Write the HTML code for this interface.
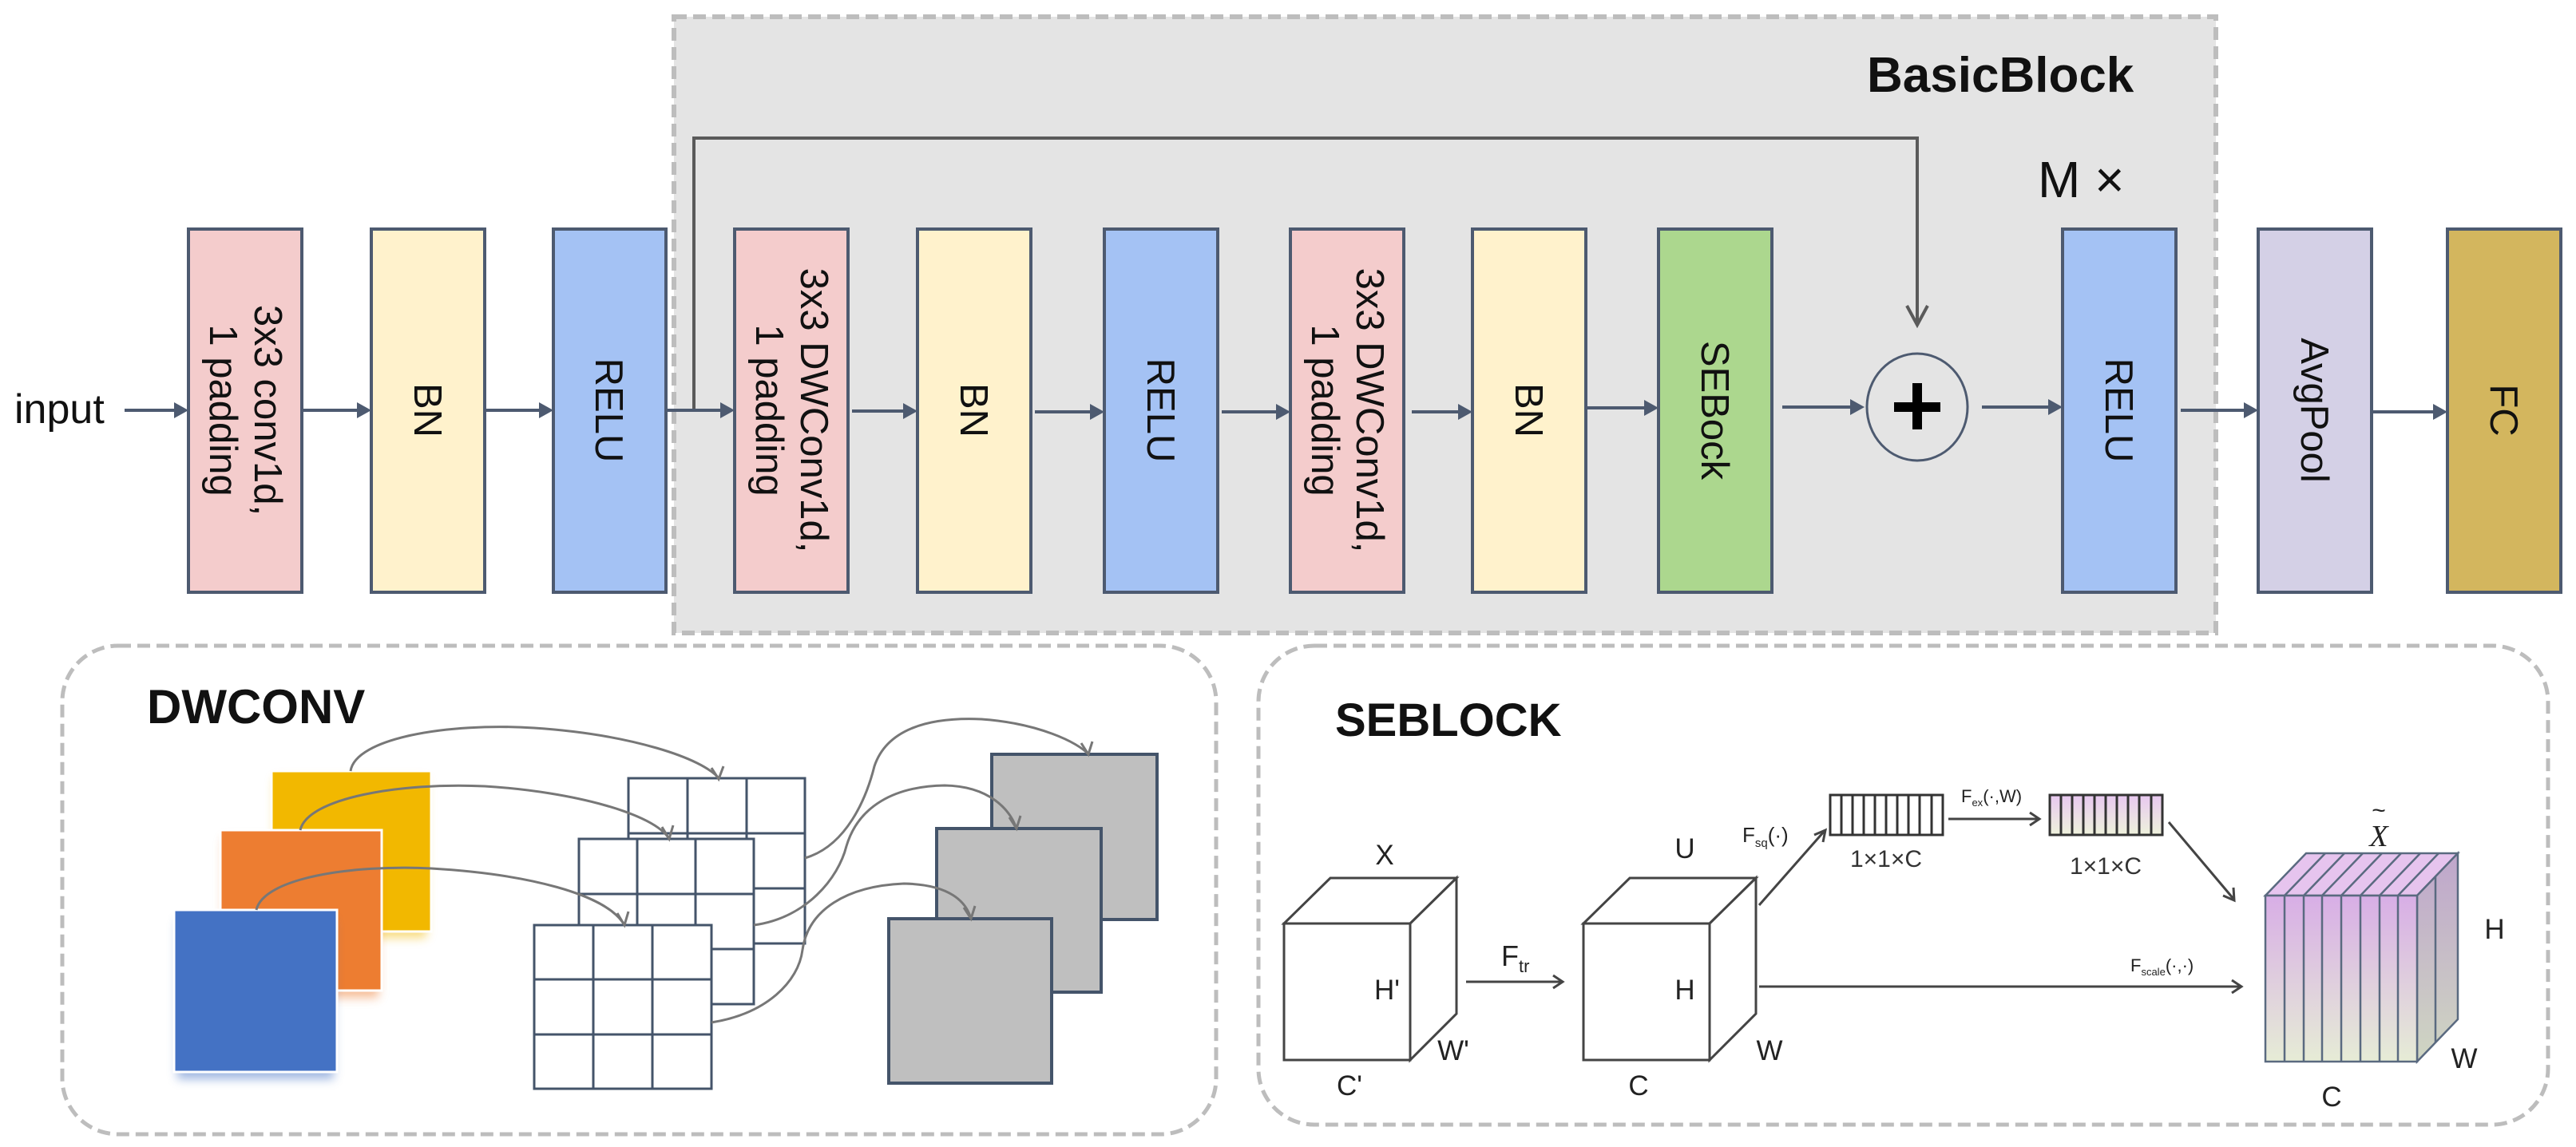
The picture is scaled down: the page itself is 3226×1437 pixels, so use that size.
<!DOCTYPE html>
<html><head><meta charset="utf-8"><style>
html,body{margin:0;padding:0;background:#fff;}
svg{display:block;font-family:"Liberation Sans",Arial,sans-serif;}
</style></head><body>
<svg width="3226" height="1437" viewBox="0 0 3226 1437" xmlns="http://www.w3.org/2000/svg">
<defs>
<marker id="ah" markerWidth="10" markerHeight="10" refX="8" refY="5" orient="auto" markerUnits="userSpaceOnUse" viewBox="0 0 10 10">
</marker>
<linearGradient id="pg" x1="0" y1="0" x2="0" y2="1">
<stop offset="0" stop-color="#d8aee6"/><stop offset="1" stop-color="#e6ecd6"/></linearGradient>
<linearGradient id="pg2" x1="0" y1="0" x2="0" y2="1">
<stop offset="0" stop-color="#bfa6cc"/><stop offset="1" stop-color="#cfd6c2"/></linearGradient>
<linearGradient id="vg" x1="0" y1="0" x2="0" y2="1">
<stop offset="0" stop-color="#e8c8f0"/><stop offset="1" stop-color="#eef2dc"/></linearGradient>
<filter id="glow" x="-20%" y="-20%" width="140%" height="160%"><feGaussianBlur stdDeviation="6"/></filter>
</defs>

<!-- BasicBlock background -->
<rect x="844" y="21" width="1931" height="772" fill="#e4e4e4" stroke="#bdbdbd" stroke-width="6" stroke-dasharray="16,8"/>
<text x="2338" y="115" font-size="62" font-weight="bold" fill="#111">BasicBlock</text>
<text x="2552" y="247" font-size="64" fill="#111">M ×</text>

<!-- skip connection -->
<polyline points="869,513 869,173 2401,173 2401,405" fill="none" stroke="#5a5a5a" stroke-width="4"/>
<polyline points="2388,383 2401,407 2414,383" fill="none" stroke="#5a5a5a" stroke-width="4"/>

<!-- boxes -->
<g stroke="#4d5a70" stroke-width="4">
<rect x="236" y="287" width="142" height="455" fill="#f4cccc"/>
<rect x="465" y="287" width="142" height="455" fill="#fff2cc"/>
<rect x="693" y="287" width="141" height="455" fill="#a4c2f4"/>
<rect x="920" y="287" width="142" height="455" fill="#f4cccc"/>
<rect x="1149" y="287" width="142" height="455" fill="#fff2cc"/>
<rect x="1383" y="287" width="142" height="455" fill="#a4c2f4"/>
<rect x="1616" y="287" width="142" height="455" fill="#f4cccc"/>
<rect x="1844" y="287" width="142" height="455" fill="#fff2cc"/>
<rect x="2077" y="287" width="142" height="455" fill="#acd78e"/>
<rect x="2583" y="287" width="142" height="455" fill="#a4c2f4"/>
<rect x="2828" y="287" width="142" height="455" fill="#d4d0e6"/>
<rect x="3065" y="287" width="142" height="455" fill="#d3b65e"/>
</g>
<ellipse cx="2401" cy="510" rx="63" ry="67" fill="none" stroke="#4d5a70" stroke-width="3"/>
<rect x="2372" y="480" width="58" height="12" fill="#000" transform="translate(0,24)"/>
<rect x="2395" y="480" width="12" height="58" fill="#000"/>

<!-- box labels (rotated) -->
<g font-size="49" fill="#111" text-anchor="middle">
<g transform="translate(307,514) rotate(90)"><text x="0" y="-12">3x3 conv1d,</text><text x="0" y="44">1 padding</text></g>
<text transform="translate(536,514) rotate(90)" x="0" y="17">BN</text>
<text transform="translate(763,514) rotate(90)" x="0" y="17">RELU</text>
<g transform="translate(991,514) rotate(90)"><text x="0" y="-12">3x3 DWConv1d,</text><text x="0" y="44">1 padding</text></g>
<text transform="translate(1220,514) rotate(90)" x="0" y="17">BN</text>
<text transform="translate(1454,514) rotate(90)" x="0" y="17">RELU</text>
<g transform="translate(1687,514) rotate(90)"><text x="0" y="-12">3x3 DWConv1d,</text><text x="0" y="44">1 padding</text></g>
<text transform="translate(1915,514) rotate(90)" x="0" y="17">BN</text>
<text transform="translate(2148,514) rotate(90)" x="0" y="17">SEBock</text>
<text transform="translate(2654,514) rotate(90)" x="0" y="17">RELU</text>
<text transform="translate(2899,514) rotate(90)" x="0" y="17">AvgPool</text>
<text transform="translate(3136,514) rotate(90)" x="0" y="17">FC</text>
</g>
<text x="18" y="530" font-size="52" fill="#111">input</text>

<!-- main arrows -->
<g stroke="#4d5a70" stroke-width="4" fill="#4d5a70">
<line x1="156" y1="514" x2="220" y2="514"/><polygon points="236,514 218,504 218,524" stroke="none"/>
<line x1="378" y1="514" x2="450" y2="514"/><polygon points="465,514 447,504 447,524" stroke="none"/>
<line x1="607" y1="514" x2="678" y2="514"/><polygon points="693,514 675,504 675,524" stroke="none"/>
<line x1="834" y1="514" x2="905" y2="514"/><polygon points="920,514 902,504 902,524" stroke="none"/>
<line x1="1067" y1="515" x2="1134" y2="515"/><polygon points="1149,515 1131,505 1131,525" stroke="none"/>
<line x1="1296" y1="516" x2="1368" y2="516"/><polygon points="1383,516 1365,506 1365,526" stroke="none"/>
<line x1="1530" y1="516" x2="1601" y2="516"/><polygon points="1616,516 1598,506 1598,526" stroke="none"/>
<line x1="1768" y1="516" x2="1829" y2="516"/><polygon points="1844,516 1826,506 1826,526" stroke="none"/>
<line x1="1986" y1="511" x2="2062" y2="511"/><polygon points="2077,511 2059,501 2059,521" stroke="none"/>
<line x1="2232" y1="510" x2="2320" y2="510"/><polygon points="2335,510 2317,500 2317,520" stroke="none"/>
<line x1="2482" y1="510" x2="2568" y2="510"/><polygon points="2583,510 2565,500 2565,520" stroke="none"/>
<line x1="2731" y1="514" x2="2813" y2="514"/><polygon points="2828,514 2810,504 2810,524" stroke="none"/>
<line x1="2970" y1="516" x2="3050" y2="516"/><polygon points="3065,516 3047,506 3047,526" stroke="none"/>
</g>

<!-- bottom panels -->
<rect x="78" y="809" width="1445" height="612" rx="70" fill="none" stroke="#bdbdbd" stroke-width="5" stroke-dasharray="16,8"/>
<rect x="1576" y="809" width="1615" height="600" rx="70" fill="none" stroke="#bdbdbd" stroke-width="5" stroke-dasharray="16,8"/>
<text x="184" y="906" font-size="60" font-weight="bold" fill="#111">DWCONV</text>
<text x="1672" y="922" font-size="58" font-weight="bold" fill="#111">SEBLOCK</text>

<!-- DWCONV content -->
<rect x="344" y="975" width="190" height="200" fill="#f2b800" filter="url(#glow)" opacity="0.5"/>
<rect x="340" y="966" width="200" height="201" fill="#f2b800" stroke="#fff" stroke-width="3"/>
<rect x="280" y="1050" width="194" height="200" fill="#ed7d31" filter="url(#glow)" opacity="0.5"/>
<rect x="276" y="1040" width="202" height="201" fill="#ed7d31" stroke="#fff" stroke-width="3"/>
<rect x="222" y="1152" width="196" height="200" fill="#4472c4" filter="url(#glow)" opacity="0.5"/>
<rect x="218" y="1140" width="204" height="203" fill="#4472c4" stroke="#fff" stroke-width="3"/>

<g fill="#fff" stroke="#44546a" stroke-width="3">
<rect x="787" y="975" width="221" height="207"/>
<path d="M861,975V1182M935,975V1182M787,1044H1008M787,1113H1008" fill="none"/>
<rect x="725" y="1051" width="219" height="207"/>
<path d="M798,1051V1258M871,1051V1258M725,1120H944M725,1189H944" fill="none"/>
<rect x="669" y="1159" width="222" height="205"/>
<path d="M743,1159V1364M817,1159V1364M669,1227H891M669,1296H891" fill="none"/>
</g>
<g fill="#bfbfbf" stroke="#44546a" stroke-width="4">
<rect x="1242" y="945" width="207" height="207"/>
<rect x="1173" y="1038" width="206" height="205"/>
<rect x="1113" y="1151" width="204" height="206"/>
</g>
<g fill="none" stroke="#777" stroke-width="3">
<path d="M439,966 C445,925 560,905 669,912 C790,920 880,950 900,975"/>
<path d="M376,1040 C385,1000 500,980 607,985 C720,992 820,1020 838,1051"/>
<path d="M321,1140 C330,1100 440,1083 540,1088 C660,1095 760,1120 782,1159"/>
<path d="M1008,1075 C1060,1060 1085,1000 1095,960 C1110,915 1160,898 1229,901 C1300,906 1350,930 1363,945"/>
<path d="M944,1159 C1010,1150 1050,1100 1060,1060 C1075,1010 1120,985 1183,984 C1240,985 1265,1015 1273,1038"/>
<path d="M891,1281 C960,1270 1000,1230 1005,1190 C1012,1140 1060,1110 1132,1107 C1190,1108 1210,1130 1216,1151"/>
<path d="M891,962 L900,976 L906,960"/><path d="M829,1036 L838,1051 L843,1034"/><path d="M773,1144 L782,1159 L787,1142"/>
<path d="M1354,931 L1363,945 L1368,929"/><path d="M1264,1024 L1273,1038 L1278,1022"/><path d="M1207,1137 L1216,1151 L1221,1135"/>
</g>

<!-- SEBLOCK content -->
<g fill="#fff" stroke="#444" stroke-width="3">
<path d="M1608,1157 L1666,1100 L1824,1100 L1766,1157 Z"/>
<path d="M1766,1157 L1824,1100 L1824,1270 L1766,1328 Z"/>
<rect x="1608" y="1157" width="158" height="171"/>
<path d="M1983,1157 L2041,1100 L2199,1100 L2141,1157 Z"/>
<path d="M2141,1157 L2199,1100 L2199,1270 L2141,1328 Z"/>
<rect x="1983" y="1157" width="158" height="171"/>
</g>
<g font-size="35" fill="#222" text-anchor="middle">
<text x="1734" y="1083">X</text><text x="1737" y="1252">H'</text><text x="1820" y="1328">W'</text><text x="1690" y="1372">C'</text>
<text x="2110" y="1075">U</text><text x="2110" y="1252">H</text><text x="2216" y="1328">W</text><text x="2052" y="1372">C</text>
<text x="3124" y="1176">H</text><text x="3086" y="1338">W</text><text x="2920" y="1386">C</text>
</g>
<text x="1880" y="1210" font-size="36" fill="#222">F<tspan font-size="22" dy="8">tr</tspan></text>
<text x="2182" y="1055" font-size="26" fill="#222">F<tspan font-size="15" dy="6">sq</tspan><tspan dy="-6">(·)</tspan></text>
<text x="2456" y="1005" font-size="22" fill="#222">F<tspan font-size="13" dy="5">ex</tspan><tspan dy="-5">(·,W)</tspan></text>
<text x="2668" y="1217" font-size="22" fill="#222">F<tspan font-size="13" dy="5">scale</tspan><tspan dy="-5">(·,·)</tspan></text>
<text x="2362" y="1086" font-size="30" fill="#333" text-anchor="middle">1×1×C</text>
<text x="2637" y="1095" font-size="30" fill="#333" text-anchor="middle">1×1×C</text>
<text x="2979" y="1060" font-size="38" font-style="italic" font-family="Liberation Serif,serif" fill="#222" text-anchor="middle">X</text>
<text x="2979" y="1025" font-size="30" fill="#222" text-anchor="middle">~</text>

<g stroke="#444" stroke-width="3" fill="none">
<line x1="1836" y1="1230" x2="1955" y2="1230"/><path d="M1945,1222 L1957,1230 L1945,1238"/>
<line x1="2203" y1="1236" x2="2805" y2="1236"/><path d="M2795,1228 L2807,1236 L2795,1244"/>
<line x1="2203" y1="1134" x2="2284" y2="1042"/><path d="M2272,1046 L2286,1040 L2283,1055"/>
<line x1="2440" y1="1026" x2="2552" y2="1026"/><path d="M2542,1018 L2554,1026 L2542,1034"/>
<line x1="2716" y1="1030" x2="2797" y2="1126"/><path d="M2797,1112 L2798,1128 L2784,1122"/>
</g>
<rect x="2292" y="996" width="141" height="50" fill="#fff" stroke="#333" stroke-width="3"/>
<path d="M2306,996V1046M2320,996V1046M2334,996V1046M2348,996V1046M2362,996V1046M2376,996V1046M2390,996V1046M2404,996V1046M2419,996V1046" stroke="#333" stroke-width="3"/>
<rect x="2567" y="996" width="141" height="50" fill="url(#vg)" stroke="#333" stroke-width="3"/>
<path d="M2581,996V1046M2595,996V1046M2609,996V1046M2623,996V1046M2637,996V1046M2651,996V1046M2665,996V1046M2679,996V1046M2694,996V1046" stroke="#333" stroke-width="3"/>

<!-- stacked tensor -->
<g stroke="#5a6a80" stroke-width="2.5">
<path d="M2837,1122 L2888,1069 L3078,1069 L3027,1122 Z" fill="#e6c4ee"/>
<path d="M3027,1122 L3078,1069 L3078,1277 L3027,1330 Z" fill="url(#pg2)"/>
<rect x="2837" y="1122" width="190" height="208" fill="url(#pg)"/>
<path d="M2861,1122V1330M2885,1122V1330M2908,1122V1330M2932,1122V1330M2956,1122V1330M2980,1122V1330M3003,1122V1330" fill="none"/>
<path d="M2861,1122L2912,1069M2885,1122L2936,1069M2908,1122L2959,1069M2932,1122L2983,1069M2956,1122L3007,1069M2980,1122L3031,1069M3003,1122L3054,1069M3050,1098V1306" fill="none"/>
</g>
</svg>
</body></html>
